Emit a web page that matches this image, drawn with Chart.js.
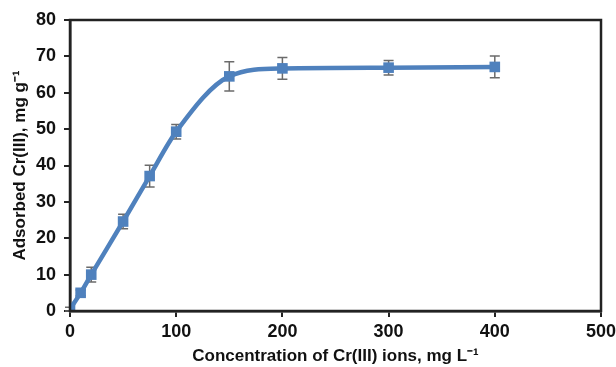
<!DOCTYPE html>
<html>
<head>
<meta charset="utf-8">
<script src="https://cdn.jsdelivr.net/npm/chart.js@4.4.0/dist/chart.umd.min.js"></script>
<style>
  html, body { margin: 0; padding: 0; background: #fff; }
  #wrap { width: 616px; height: 367px; }
</style>
</head>
<body>
<div id="wrap"><canvas id="chart" width="616" height="367"></canvas></div>
<script>
var concentration = [0, 10, 20, 50, 75, 100, 150, 200, 300, 400];
var adsorbed = [0.5, 5, 10, 24.6, 37.1, 49.3, 64.5, 66.7, 66.9, 67.1];
var errors = [0.5, 0.8, 2, 2, 3, 2, 4, 3, 2, 3];
var xTicks = [0, 100, 200, 300, 400, 500];
var yTicks = [0, 10, 20, 30, 40, 50, 60, 70, 80];

var points = [];
for (var i = 0; i < concentration.length; ++i) {
	points.push({ x: concentration[i], y: adsorbed[i] });
}

//Error bars drawn under the markers.
var errorBars = {
	id: 'errorBars',
	beforeDatasetsDraw: function (chart) {
		var ctx = chart.ctx;
		var xs = chart.scales.x, ys = chart.scales.y;
		ctx.save();
		ctx.strokeStyle = '#6b6b6b';
		ctx.lineWidth = 1.5;
		for (var i = 0; i < concentration.length; ++i) {
			var px = xs.getPixelForValue(concentration[i]);
			var top = ys.getPixelForValue(adsorbed[i] + errors[i]);
			var bot = ys.getPixelForValue(adsorbed[i] - errors[i]);
			ctx.beginPath();
			ctx.moveTo(px, top); ctx.lineTo(px, bot);
			ctx.moveTo(px - 5, top); ctx.lineTo(px + 5, top);
			ctx.moveTo(px - 5, bot); ctx.lineTo(px + 5, bot);
			ctx.stroke();
		}
		ctx.restore();
	}
};

//Frame round the plot area.
var frame = {
	id: 'frame',
	afterDraw: function (chart) {
		var a = chart.chartArea, ctx = chart.ctx;
		ctx.save();
		ctx.strokeStyle = '#222';
		ctx.lineWidth = 2.5;
		ctx.strokeRect(a.left, a.top, a.right - a.left, a.bottom - a.top);
		ctx.restore();
	}
};

var tickFont = { family: 'Liberation Sans', size: 18, weight: 'bold' };
var titleFont = { family: 'Liberation Sans', size: 17, weight: 'bold' };

new Chart(document.getElementById('chart'), {
	type: 'scatter',
	data: {
		datasets: [{
			data: points,
			showLine: true,
			borderColor: '#4f81bd',
			backgroundColor: '#4f81bd',
			borderWidth: 4.5,
			cubicInterpolationMode: 'monotone',
			pointStyle: 'rect',
			pointRadius: 7.5,
			pointHoverRadius: 7.5,
			pointBorderWidth: 0
		}]
	},
	options: {
		responsive: false,
		animation: false,
		layout: { padding: { left: 10, right: 15, top: 20, bottom: 0 } },
		plugins: { legend: { display: false }, tooltip: { enabled: false } },
		scales: {
			x: {
				type: 'linear',
				min: 0, max: 500,
				afterBuildTicks: function (s) { s.ticks = xTicks.map(function (v) { return { value: v }; }); },
				afterFit: function (s) { s.height = 56; s.paddingRight = 0; },
				grid: { drawOnChartArea: false, tickLength: 6, color: '#222', lineWidth: 2 },
				border: { color: '#222', width: 2.5 },
				ticks: { color: '#111', font: tickFont, padding: 4, maxRotation: 0 },
				title: { display: true, text: 'Concentration of Cr(III) ions, mg L\u207B\u00B9', color: '#111', font: titleFont, padding: { top: 2, bottom: 0 } }
			},
			y: {
				min: 0, max: 80,
				afterBuildTicks: function (s) { s.ticks = yTicks.map(function (v) { return { value: v }; }); },
				afterFit: function (s) { s.width = 60; },
				grid: { drawOnChartArea: false, tickLength: 6, color: '#222', lineWidth: 2 },
				border: { color: '#222', width: 2.5 },
				ticks: { color: '#111', font: tickFont, padding: 8 },
				title: { display: true, text: 'Adsorbed Cr(III), mg g\u207B\u00B9', color: '#111', font: titleFont, padding: { top: 0, bottom: 2 } }
			}
		}
	},
	plugins: [errorBars, frame]
});
</script>
</body>
</html>
